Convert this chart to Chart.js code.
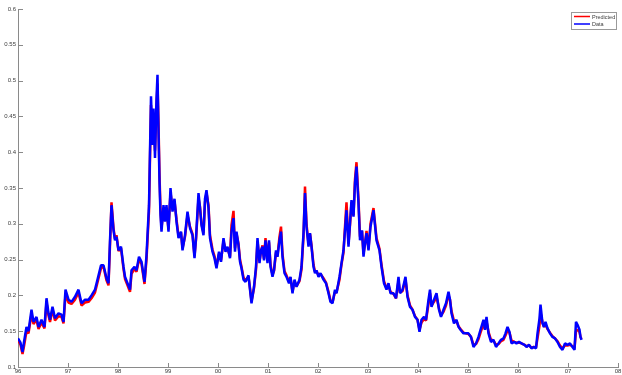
<!DOCTYPE html>
<html>
<head>
<meta charset="utf-8">
<script src="https://cdn.jsdelivr.net/npm/chart.js@4"></script>
<style>
  html, body { margin: 0; padding: 0; background: #ffffff; }
  canvas { display: block; }
</style>
</head>
<body>
<canvas id="chart" width="622" height="375"></canvas>
<script>
'use strict';

// sample dates as decimal years
const dates = [
  1996.00,1996.05,1996.09,1996.12,1996.17,1996.21,1996.27,1996.31,1996.37,1996.41,
  1996.47,1996.53,1996.57,1996.61,1996.64,1996.69,1996.74,1996.81,1996.87,1996.91,
  1996.95,1997.01,1997.07,1997.14,1997.21,1997.27,1997.34,1997.41,1997.47,1997.54,
  1997.59,1997.66,1997.71,1997.77,1997.81,1997.84,1997.87,1997.91,1997.94,1997.97,
  1998.01,1998.06,1998.11,1998.14,1998.19,1998.24,1998.27,1998.33,1998.37,1998.42,
  1998.47,1998.53,1998.57,1998.62,1998.66,1998.69,1998.71,1998.74,1998.77,1998.79,
  1998.81,1998.83,1998.85,1998.87,1998.91,1998.94,1998.97,1999.01,1999.05,1999.09,
  1999.13,1999.17,1999.21,1999.26,1999.29,1999.34,1999.39,1999.44,1999.49,1999.53,
  1999.56,1999.61,1999.64,1999.67,1999.71,1999.74,1999.77,1999.81,1999.84,1999.89,
  1999.93,1999.97,2000.02,2000.06,2000.11,2000.15,2000.19,2000.24,2000.27,2000.31,
  2000.34,2000.37,2000.41,2000.44,2000.47,2000.51,2000.55,2000.61,2000.64,2000.67,
  2000.72,2000.76,2000.79,2000.83,2000.86,2000.89,2000.92,2000.95,2000.99,2001.02,
  2001.05,2001.09,2001.12,2001.16,2001.19,2001.23,2001.26,2001.29,2001.33,2001.37,
  2001.42,2001.45,2001.49,2001.53,2001.57,2001.63,2001.67,2001.71,2001.74,2001.77,
  2001.81,2001.84,2001.87,2001.91,2001.94,2001.97,2002.01,2002.05,2002.11,2002.16,
  2002.21,2002.25,2002.29,2002.34,2002.37,2002.43,2002.47,2002.51,2002.54,2002.57,
  2002.61,2002.64,2002.67,2002.71,2002.74,2002.77,2002.81,2002.84,2002.88,2002.91,
  2002.94,2002.97,2003.01,2003.05,2003.11,2003.17,2003.23,2003.27,2003.32,2003.37,
  2003.41,2003.45,2003.51,2003.56,2003.61,2003.64,2003.69,2003.75,2003.79,2003.84,
  2003.89,2003.94,2003.99,2004.03,2004.07,2004.12,2004.16,2004.21,2004.24,2004.27,
  2004.32,2004.37,2004.42,2004.46,2004.51,2004.56,2004.61,2004.64,2004.67,2004.72,
  2004.77,2004.81,2004.85,2004.91,2004.96,2005.01,2005.06,2005.11,2005.16,2005.21,
  2005.25,2005.31,2005.34,2005.37,2005.41,2005.46,2005.51,2005.56,2005.61,2005.66,
  2005.71,2005.75,2005.79,2005.83,2005.87,2005.93,2005.97,2006.02,2006.07,2006.13,
  2006.17,2006.22,2006.27,2006.32,2006.36,2006.39,2006.43,2006.45,2006.49,2006.52,
  2006.55,2006.59,2006.64,2006.69,2006.74,2006.79,2006.84,2006.89,2006.94,2006.99,
  2007.04,2007.09,2007.13,2007.16,2007.19,2007.23,2007.25,2007.27
];

// model output
const predicted = [
  0.138,0.131,0.118,0.129,0.150,0.147,0.174,0.160,0.166,0.153,
  0.162,0.154,0.190,0.172,0.163,0.180,0.165,0.171,0.170,0.161,
  0.201,0.190,0.188,0.194,0.204,0.186,0.190,0.191,0.196,0.204,
  0.218,0.238,0.240,0.221,0.214,0.270,0.330,0.294,0.279,0.284,
  0.262,0.266,0.237,0.223,0.214,0.205,0.230,0.237,0.233,0.250,
  0.244,0.216,0.250,0.318,0.466,0.420,0.450,0.402,0.462,0.496,
  0.440,0.368,0.320,0.294,0.322,0.306,0.322,0.292,0.344,0.320,
  0.332,0.306,0.283,0.288,0.266,0.282,0.312,0.296,0.286,0.255,
  0.278,0.336,0.324,0.300,0.287,0.330,0.343,0.326,0.284,0.264,
  0.255,0.241,0.258,0.249,0.276,0.264,0.266,0.254,0.298,0.318,
  0.266,0.286,0.272,0.250,0.240,0.225,0.221,0.226,0.210,0.192,
  0.210,0.236,0.276,0.248,0.262,0.270,0.251,0.280,0.248,0.274,
  0.243,0.229,0.234,0.260,0.256,0.282,0.296,0.258,0.234,0.228,
  0.219,0.225,0.205,0.220,0.213,0.220,0.236,0.282,0.352,0.300,
  0.272,0.286,0.270,0.243,0.233,0.234,0.228,0.230,0.224,0.218,
  0.205,0.193,0.190,0.205,0.204,0.222,0.243,0.260,0.296,0.330,
  0.272,0.298,0.330,0.312,0.362,0.386,0.334,0.282,0.290,0.258,
  0.272,0.290,0.265,0.300,0.322,0.280,0.265,0.243,0.220,0.210,
  0.214,0.205,0.202,0.196,0.220,0.204,0.206,0.222,0.200,0.186,
  0.180,0.171,0.166,0.152,0.162,0.167,0.165,0.188,0.203,0.186,
  0.191,0.198,0.182,0.172,0.177,0.186,0.200,0.194,0.178,0.164,
  0.164,0.157,0.153,0.148,0.147,0.146,0.142,0.131,0.132,0.139,
  0.148,0.160,0.153,0.164,0.149,0.138,0.137,0.131,0.132,0.136,
  0.138,0.144,0.151,0.148,0.137,0.135,0.134,0.134,0.133,0.131,
  0.129,0.130,0.127,0.128,0.127,0.140,0.158,0.176,0.162,0.156,
  0.159,0.153,0.148,0.143,0.140,0.136,0.130,0.126,0.130,0.130,
  0.131,0.129,0.126,0.150,0.152,0.149,0.142,0.139
];

// observed series
const observed = [
  0.140,0.134,0.121,0.135,0.156,0.150,0.180,0.163,0.170,0.156,
  0.166,0.156,0.196,0.175,0.166,0.184,0.168,0.175,0.173,0.163,
  0.208,0.194,0.191,0.198,0.208,0.189,0.194,0.194,0.200,0.208,
  0.222,0.242,0.242,0.224,0.217,0.277,0.326,0.291,0.277,0.282,
  0.263,0.268,0.240,0.226,0.217,0.208,0.235,0.240,0.235,0.254,
  0.247,0.219,0.256,0.326,0.478,0.410,0.461,0.392,0.475,0.508,
  0.429,0.359,0.312,0.289,0.326,0.303,0.326,0.289,0.350,0.317,
  0.335,0.303,0.280,0.289,0.263,0.284,0.317,0.294,0.284,0.252,
  0.280,0.343,0.322,0.298,0.284,0.335,0.347,0.322,0.280,0.261,
  0.252,0.238,0.261,0.247,0.280,0.261,0.268,0.252,0.289,0.308,
  0.261,0.289,0.270,0.247,0.238,0.222,0.219,0.228,0.208,0.189,
  0.212,0.240,0.280,0.245,0.263,0.268,0.249,0.277,0.245,0.277,
  0.240,0.226,0.235,0.263,0.254,0.277,0.289,0.254,0.231,0.226,
  0.217,0.226,0.203,0.222,0.212,0.222,0.240,0.287,0.343,0.296,
  0.268,0.287,0.268,0.240,0.231,0.235,0.226,0.231,0.222,0.217,
  0.203,0.191,0.189,0.208,0.203,0.226,0.245,0.263,0.291,0.319,
  0.268,0.301,0.333,0.310,0.357,0.380,0.328,0.277,0.291,0.254,
  0.273,0.287,0.263,0.296,0.319,0.277,0.263,0.240,0.217,0.208,
  0.217,0.203,0.203,0.196,0.226,0.203,0.208,0.226,0.198,0.184,
  0.180,0.170,0.166,0.149,0.166,0.170,0.166,0.194,0.208,0.184,
  0.194,0.203,0.180,0.170,0.180,0.189,0.205,0.194,0.175,0.161,
  0.166,0.156,0.152,0.147,0.147,0.147,0.142,0.128,0.133,0.142,
  0.152,0.166,0.152,0.170,0.147,0.135,0.138,0.128,0.133,0.138,
  0.140,0.147,0.156,0.149,0.133,0.135,0.133,0.135,0.133,0.131,
  0.128,0.131,0.126,0.128,0.126,0.147,0.168,0.187,0.161,0.156,
  0.163,0.154,0.147,0.142,0.140,0.135,0.128,0.124,0.133,0.131,
  0.133,0.128,0.124,0.163,0.159,0.152,0.142,0.138
];

const seriesLabels = ['Predicted', 'Data'];
const yearTicks = [1996, 2008];   // x axis range
const valueTicks = [0.1, 0.6, 0.05]; // min, max, step

const axisColor = '#8a8a8a';
const textColor = '#3c3c3c';
const tickFont = { family: 'Liberation Sans', size: 6 };

function toPoints(values) {
  return dates.map((d, i) => ({ x: d, y: values[i] }));
}

// matlab style ticks pointing into the plot
const innerTicks = {
  id: 'innerTicks',
  afterDatasetsDraw(chart) {
    const { ctx, chartArea, scales } = chart;
    ctx.save();
    ctx.strokeStyle = axisColor;
    ctx.lineWidth = 1;
    ctx.beginPath();
    scales.x.ticks.forEach((t, i) => {
      const px = Math.round(scales.x.getPixelForTick(i)) + 0.5;
      ctx.moveTo(px, chartArea.bottom);
      ctx.lineTo(px, chartArea.bottom - 4);
    });
    scales.y.ticks.forEach((t, i) => {
      const py = Math.round(scales.y.getPixelForTick(i)) + 0.5;
      ctx.moveTo(chartArea.left, py);
      ctx.lineTo(chartArea.left + 5, py);
    });
    ctx.stroke();
    ctx.restore();
  }
};

// small boxed legend in the top right corner
const cornerLegend = {
  id: 'cornerLegend',
  afterDraw(chart) {
    const { ctx, chartArea } = chart;
    const w = 45, h = 17;
    const left = chartArea.right - w - 2;
    const top = chartArea.top + 3;
    ctx.save();
    ctx.fillStyle = '#ffffff';
    ctx.fillRect(left, top, w, h);
    ctx.strokeStyle = '#9a9a9a';
    ctx.lineWidth = 1;
    ctx.strokeRect(left + 0.5, top + 0.5, w, h);
    ctx.font = '5.5px "Liberation Sans"';
    ctx.textBaseline = 'middle';
    chart.data.datasets.forEach((ds, i) => {
      const yy = top + 4.5 + i * 7.5;
      ctx.strokeStyle = ds.borderColor;
      ctx.lineWidth = 1.5;
      ctx.beginPath();
      ctx.moveTo(left + 3, yy);
      ctx.lineTo(left + 19, yy);
      ctx.stroke();
      ctx.fillStyle = textColor;
      ctx.fillText(ds.label, left + 21, yy + 0.5);
    });
    ctx.restore();
  }
};

function fixSize(size) {
  return function (scale) {
    if (scale.isHorizontal()) scale.height = size; else scale.width = size;
    scale.paddingLeft = scale.paddingRight = 0;
    scale.paddingTop = scale.paddingBottom = 0;
  };
}

function renderChart() {
  const chartDatasets = [
    {
      label: seriesLabels[0],
      data: toPoints(predicted),
      borderColor: '#ff0000',
      borderWidth: 2.5,
      order: 2
    },
    {
      label: seriesLabels[1],
      data: toPoints(observed),
      borderColor: '#0000ff',
      borderWidth: 2.5,
      order: 1
    }
  ];

  const chartOptions = {
    responsive: false,
    animation: false,
    layout: { padding: { top: 9, right: 4, bottom: 0, left: 0 } },
    elements: {
      point: { radius: 0 },
      line: { tension: 0, borderJoinStyle: 'bevel' }
    },
    plugins: {
      legend: { display: false },
      tooltip: { enabled: false }
    },
    scales: {
      x: {
        type: 'linear',
        min: yearTicks[0],
        max: yearTicks[1],
        afterFit: fixSize(8),
        grid: { display: false, drawTicks: false },
        border: { display: true, color: axisColor, width: 1 },
        ticks: {
          stepSize: 1,
          padding: 1,
          maxRotation: 0,
          autoSkip: false,
          color: textColor,
          font: tickFont,
          callback: v => String(v % 100).padStart(2, '0')
        }
      },
      y: {
        min: valueTicks[0],
        max: valueTicks[1],
        afterFit: fixSize(18),
        grid: { display: false, drawTicks: false },
        border: { display: true, color: axisColor, width: 1 },
        ticks: {
          stepSize: valueTicks[2],
          padding: 2,
          autoSkip: false,
          color: textColor,
          font: tickFont,
          callback: v => String(Number(v.toFixed(2)))
        }
      }
    }
  };

  new Chart(document.getElementById('chart'), {
    type: 'line',
    data: { datasets: chartDatasets },
    options: chartOptions,
    plugins: [innerTicks, cornerLegend]
  });
}

renderChart();
</script>
</body>
</html>
